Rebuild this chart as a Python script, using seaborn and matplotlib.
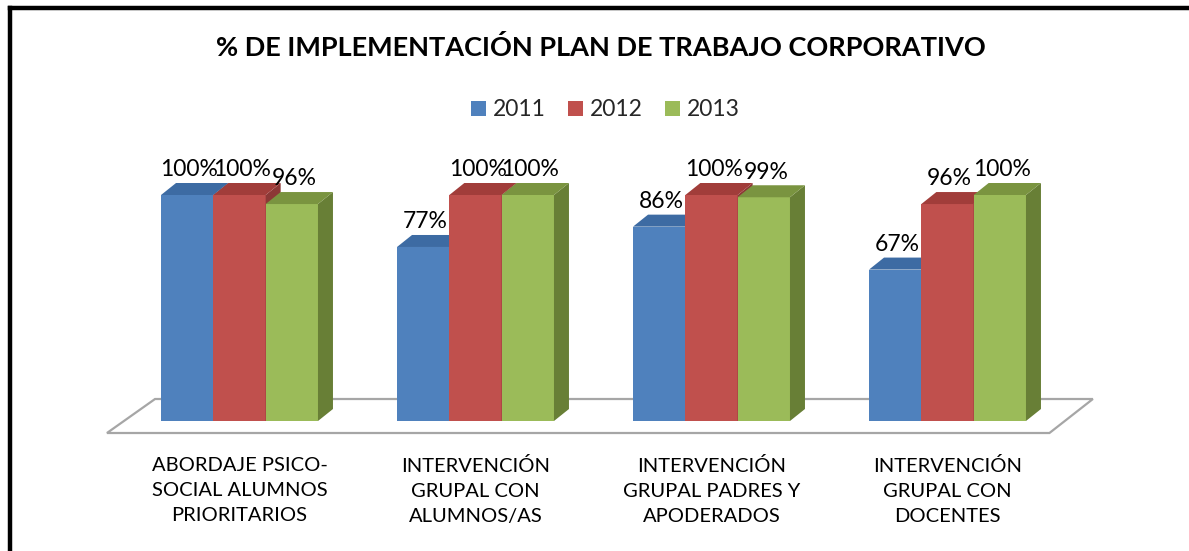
import numpy as np
import pandas as pd
import matplotlib
matplotlib.use("Agg")
import matplotlib.pyplot as plt
import seaborn as sns
from matplotlib.patches import Polygon, Patch
from matplotlib.lines import Line2D

categories = ["ABORDAJE PSICO-\nSOCIAL ALUMNOS\nPRIORITARIOS",
              "INTERVENCIÓN\nGRUPAL CON\nALUMNOS/AS",
              "INTERVENCIÓN\nGRUPAL PADRES Y\nAPODERADOS",
              "INTERVENCIÓN\nGRUPAL CON\nDOCENTES"]
years = ["2011", "2012", "2013"]
v2011 = [100, 77, 86, 67]
v2012 = [100, 100, 100, 96]
v2013 = [96, 100, 99, 100]
title = "% DE IMPLEMENTACIÓN PLAN DE TRABAJO CORPORATIVO"

front = {"2011": "#4F81BD", "2012": "#C0504D", "2013": "#9BBB59"}
top_c = {"2011": "#3D6BA3", "2012": "#A13D3A", "2013": "#7A9440"}
side_c = {"2011": "#385D8A", "2012": "#8C3836", "2013": "#687F36"}

sns.set_theme(style="white")
plt.rcParams['font.family'] = ['Lato', 'DejaVu Sans']

df = pd.DataFrame({
    "cat": categories * 3,
    "year": [years[0]] * 4 + [years[1]] * 4 + [years[2]] * 4,
    "val": v2011 + v2012 + v2013,
})

W, H = 1189, 551
fig = plt.figure(figsize=(W / 100, H / 100), dpi=100)
fig.patch.set_facecolor("white")
ax = fig.add_axes([121.5 / W, (H - 421) / H, 944 / W, 226 / H])
sns.barplot(data=df, x="cat", y="val", hue="year", hue_order=years,
            palette=front, width=0.665, ax=ax, legend=False,
            saturation=1, linewidth=0, errorbar=None)
ax.set_xlim(-0.5, 3.5)
ax.set_ylim(0, 100)
ax.set_xlabel("")
ax.set_ylabel("")
ax.set_yticks([])
for s in ax.spines.values():
    s.set_visible(False)
ax.patch.set_alpha(0)
ax.tick_params(axis="x", length=0, pad=26, labelsize=14.5)
for lab in ax.get_xticklabels():
    lab.set_linespacing(1.55)
    lab.set_color("#000000")

bars = sorted(list(ax.patches), key=lambda p: p.get_x())

# 3D offset in data units
dxp, dyp = 15, 12
dx = dxp / (944 / 4)
dy = dyp / 226 * 100

# floor in axes coords
floor = Polygon([(0.0355, 0.0973), (1.029, 0.0973), (0.983, -0.0531), (-0.0154, -0.0531)],
                closed=True, transform=ax.transAxes, facecolor="white",
                edgecolor="#A6A6A6", linewidth=1.6, zorder=0.5, clip_on=False)
ax.add_patch(floor)

for i, b in enumerate(bars):
    x0 = b.get_x()
    w = b.get_width()
    h = b.get_height()
    yr = years[i % 3]
    z = 2 + i * 3
    b.set_zorder(z)
    b.set_clip_on(False)
    topf = Polygon([(x0, h), (x0 + w, h), (x0 + w + dx, h + dy), (x0 + dx, h + dy)],
                   closed=True, facecolor=top_c[yr], edgecolor="none", zorder=z + 1, clip_on=False)
    sidef = Polygon([(x0 + w, 0), (x0 + w, h), (x0 + w + dx, h + dy), (x0 + w + dx, dy)],
                    closed=True, facecolor=side_c[yr], edgecolor="none", zorder=z + 1, clip_on=False)
    ax.add_patch(sidef)
    ax.add_patch(topf)
    ax.text(x0 + w / 2 + dx * 0.15, h + dy + 1.2, f"{h:.0f}%", ha="center", va="bottom",
            fontsize=16.5, color="#000000", zorder=100, clip_on=False)

fig.text(601 / W, 1 - 48 / H, title, ha="center", va="center",
         fontsize=19.5, fontweight="bold", color="#000000")

handles = [Patch(facecolor=front[y], edgecolor="none", label=y) for y in years]
fig.legend(handles=handles, loc="center", bbox_to_anchor=(605.5 / W, 1 - 110 / H),
           ncol=3, frameon=False, fontsize=16.5, handlelength=0.66, handleheight=0.66,
           handletextpad=0.3, columnspacing=0.96)

fig.add_artist(Line2D([10 / W, 10 / W], [0, 1 - 8 / H], transform=fig.transFigure,
                      color="black", linewidth=3.2, solid_capstyle="projecting"))
fig.add_artist(Line2D([10 / W, 1], [1 - 8 / H, 1 - 8 / H], transform=fig.transFigure,
                      color="black", linewidth=3.2, solid_capstyle="projecting"))

fig.savefig("out.png", dpi=100, facecolor="white")
